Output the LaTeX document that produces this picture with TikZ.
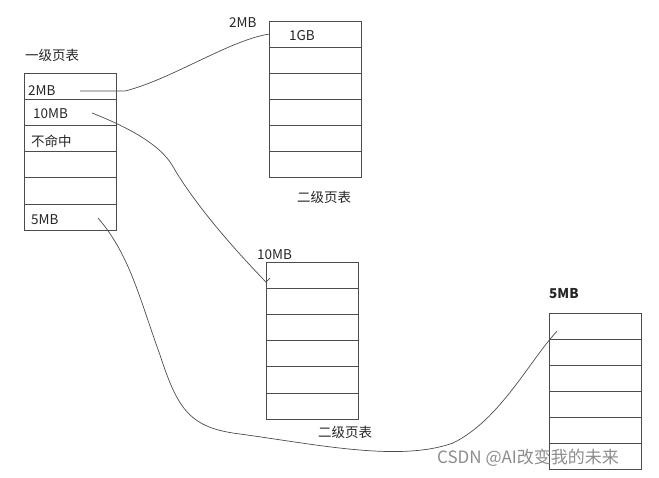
\documentclass[tikz,border=0pt]{standalone}
\usepackage{fontspec}
\setmainfont{Noto Sans CJK SC}
\usetikzlibrary{positioning}

\begin{document}
\begin{tikzpicture}[
  x=1pt, y=-1pt,
  cell/.style={draw=black!70, line width=0.8pt, minimum width=92pt, minimum height=26.2pt,
               inner sep=0pt, outer sep=0pt, anchor=north west},
  lbl/.style={anchor=west, inner sep=0pt, font=\fontsize{13.5}{15}\selectfont, text=black!85},
  link/.style={draw=black!70, line width=0.7pt}
]
  \useasboundingbox (0,0) rectangle (659,478);

  % first-level table and three second-level tables
  \foreach \i in {1,...,6} {
    \node[cell] (l\i) at (24,{73+26.2*(\i-1)}) {};
    \node[cell] (a\i) at (269,{21+26*(\i-1)}) {};
    \node[cell] (b\i) at (266,{262+26.2*(\i-1)}) {};
    \node[cell] (c\i) at (549,{313+26*(\i-1)}) {};
  }

  \node[lbl] (t1) at (25,55) {一级页表};
  \node[lbl] (e2) at (28,91) {2MB};
  \node[lbl] (e10) at (33,114) {10MB};
  \node[lbl] (miss) at (31,141) {不命中};
  \node[lbl] (e5) at (31,220) {5MB};

  \node[lbl] (ha) at (229,23) {2MB};
  \node[lbl] (g1) at (289,36) {1GB};
  \node[lbl] (ta) at (297,197) {二级页表};

  \node[lbl] (hb) at (257,255) {10MB};
  \node[lbl] (tb) at (318,432) {二级页表};

  \node[lbl, font=\fontsize{13.5}{15}\selectfont\bfseries] (hc) at (549,294) {5MB};

  \node[lbl, font=\fontsize{17}{19}\selectfont, text=black!45] (wm) at (437,458)
    {CSDN @AI改变我的未来};

  % hand-drawn links
  \coordinate (s2) at (80,91);
  \coordinate (s10) at (92,113);
  \coordinate (s5) at (98,218);
  \draw[link] (s2) -- (125,91) .. controls (170,80) and (230,40) .. (a1.west);
  \draw[link] (s10) .. controls (130,128) and (160,145) .. (172,165)
                    .. controls (195,205) and (235,250) .. ([yshift=-7pt]b1.west)
                    -- ++(4pt,4pt);
  \draw[link] (s5) .. controls (130,255) and (140,300) .. (160,355)
                   .. controls (178,410) and (190,428) .. (240,434)
                   .. controls (320,445) and (400,462) .. (453,443)
                   .. controls (500,420) and (530,360) .. ([shift={(8pt,8pt)}]c1.south west);
\end{tikzpicture}
\end{document}
